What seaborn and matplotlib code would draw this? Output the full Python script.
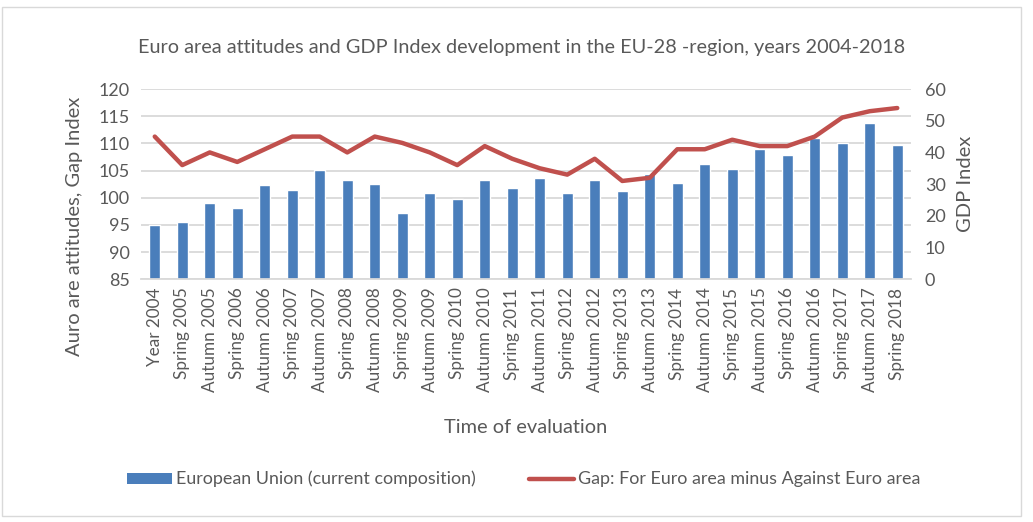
import numpy as np
import pandas as pd
import matplotlib
matplotlib.use("Agg")
import matplotlib.pyplot as plt
from matplotlib.patches import Patch, Rectangle
from matplotlib.lines import Line2D
import seaborn as sns

periods = ["Year 2004", "Spring 2005", "Autumn 2005", "Spring 2006", "Autumn 2006",
           "Spring 2007", "Autumn 2007", "Spring 2008", "Autumn 2008", "Spring 2009",
           "Autumn 2009", "Spring 2010", "Autumn 2010", "Spring 2011", "Autumn 2011",
           "Spring 2012", "Autumn 2012", "Spring 2013", "Autumn 2013", "Spring 2014",
           "Autumn 2014", "Spring 2015", "Autumn 2015", "Spring 2016", "Autumn 2016",
           "Spring 2017", "Autumn 2017", "Spring 2018"]
eu_values = [95.0, 95.6, 99.0, 98.2, 102.3, 101.5, 105.1, 103.2, 102.6, 97.1,
             100.9, 99.8, 103.2, 101.7, 103.7, 100.9, 103.2, 101.3, 104.4, 102.8,
             106.2, 105.3, 109.0, 107.8, 111.0, 110.1, 113.7, 109.7]
gap_values = [45, 36, 40, 37, 41, 45, 45, 40, 45, 43,
              40, 36, 42, 38, 35, 33, 38, 31, 32, 41,
              41, 44, 42, 42, 45, 51, 53, 54]
left_ticks = [85, 90, 95, 100, 105, 110, 115, 120]
right_ticks = [0, 10, 20, 30, 40, 50, 60]

bar_label = "European Union (current composition)"
line_label = "Gap: For Euro area minus Against Euro area"

df = pd.DataFrame({"period": periods, "eu": eu_values, "gap": gap_values,
                   "pos": np.arange(len(periods))})

sns.set_theme(style="white")
plt.rcParams["font.family"] = ["Lato", "DejaVu Sans"]
txt = "#595959"
bar_color = "#4A7EBB"
line_color = "#C0504D"
grid_color = "#D9D9D9"

fig = plt.figure(figsize=(10.33, 5.22), dpi=100)
ax = fig.add_axes([0.1365, 0.465, 0.7454, 0.3645])

sns.barplot(data=df, x="period", y="eu", color=bar_color, width=0.4,
            saturation=1, ax=ax, zorder=2)
ax.set_ylim(85, 120)
ax.set_yticks(left_ticks)
ax.set_xlim(-0.5, len(periods) - 0.5)
ax.yaxis.grid(True, color=grid_color, linewidth=1.3, zorder=0)
ax.set_axisbelow(True)
for s in ["top", "right", "left"]:
    ax.spines[s].set_visible(False)
ax.spines["bottom"].set_color(grid_color)
ax.spines["bottom"].set_linewidth(1.3)
ax.tick_params(axis="y", length=0, labelsize=13, labelcolor=txt, pad=8)
ax.tick_params(axis="x", length=0, labelsize=12.3, labelcolor=txt, pad=6)
plt.setp(ax.get_xticklabels(), rotation=90)
ax.set_xlabel("Time of evaluation", fontsize=14.4, color=txt, labelpad=19)
ax.set_ylabel("Auro are attitudes, Gap Index", fontsize=14.5, color=txt)
ax.yaxis.set_label_coords(-0.075, 0.28)

ax2 = ax.twinx()
sns.lineplot(data=df, x="pos", y="gap", color=line_color, linewidth=3.2,
             ax=ax2, legend=False)
ax2.set_ylim(0, 60)
ax2.set_yticks(right_ticks)
ax2.set_xlim(-0.5, len(periods) - 0.5)
for s in ["top", "right", "left", "bottom"]:
    ax2.spines[s].set_visible(False)
ax2.tick_params(axis="y", length=0, labelsize=13, labelcolor=txt, pad=10)
ax2.set_ylabel("GDP Index", fontsize=14.5, color=txt, labelpad=8)
ax2.grid(False)

fig.suptitle("Euro area attitudes and GDP Index development in the EU-28 -region, years 2004-2018",
             x=0.505, y=0.925, fontsize=14.3, color=txt)

handles = [Patch(facecolor=bar_color, edgecolor="none", label=bar_label),
           Line2D([0], [0], color=line_color, linewidth=3.2, label=line_label)]
fig.legend(handles=handles, loc="center", bbox_to_anchor=(0.507, 0.082), ncol=2,
           frameon=False, fontsize=12.9, labelcolor=txt, handlelength=2.5,
           handleheight=0.55, handletextpad=0.2, columnspacing=3.0)

fig.patches.append(Rectangle((0.002, 0.012), 0.986, 0.975, transform=fig.transFigure,
                             fill=False, edgecolor=grid_color, linewidth=1))

fig.savefig("out.png", dpi=100)
